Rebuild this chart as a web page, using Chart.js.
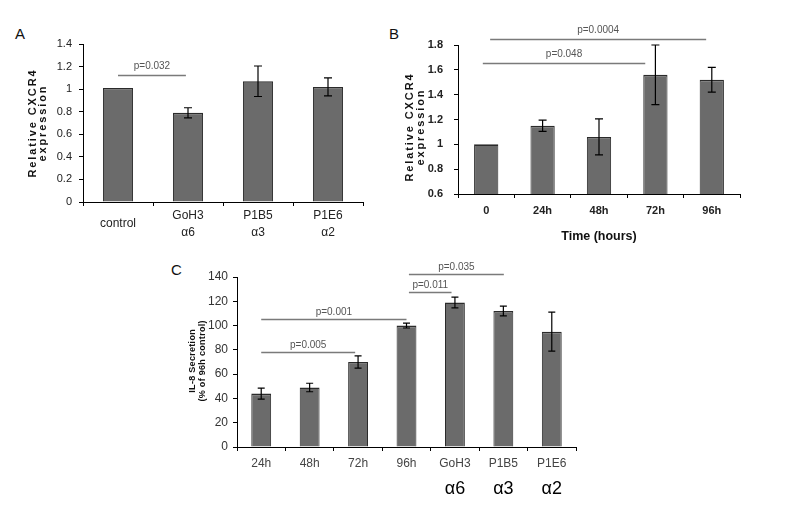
<!DOCTYPE html>
<html lang="en">
<head>
<meta charset="UTF-8">
<title>CXCR4 expression and IL-8 secretion</title>
<script src="https://cdn.jsdelivr.net/npm/chart.js"></script>
<style>
    body { margin: 0; background: #fff; }
    #wrap { position: relative; width: 800px; height: 507px; overflow: hidden; }
    canvas, .tag { position: absolute; }
    .tag { font: 15px "Liberation Sans", Arial, sans-serif; color: #111; }
</style>
</head>
<body>
<div id="wrap">
    <div class="tag" style="left:15px;top:25px">A</div>
    <div class="tag" style="left:389px;top:25px">B</div>
    <div class="tag" style="left:171px;top:261px">C</div>
    <canvas id="chartA" width="385" height="260" style="left:0;top:0"></canvas>
    <canvas id="chartB" width="400" height="260" style="left:390px;top:0"></canvas>
    <canvas id="chartC" width="430" height="257" style="left:170px;top:250px"></canvas>
</div>

<script>
const FONT = "'Liberation Sans', Arial, sans-serif";

// Panel A - CXCR4 after antibody treatment
const labelsA = ['control', ['GoH3', 'α6'], ['P1B5', 'α3'], ['P1E6', 'α2']];
const valuesA = [1.01, 0.79, 1.07, 1.02];
const errorsA = [0, 0.045, 0.135, 0.08];
const sigA = [{ from: 0, to: 0.97, y: 1.125, text: 'p=0.032' }];

// Panel B - CXCR4 over time
const labelsB = ['0', '24h', '48h', '72h', '96h'];
const valuesB = [1.0, 1.15, 1.06, 1.56, 1.52];
const errorsB = [0, 0.045, 0.145, 0.24, 0.1];
const sigB = [
    { from: 0.07, to: 3.9, y: 1.848, text: 'p=0.0004' },
    { from: -0.06, to: 2.82, y: 1.658, text: 'p=0.048' }
];

// Panel C - IL-8 secretion
const labelsC = ['24h', '48h', '72h', '96h', 'GoH3', 'P1B5', 'P1E6'];
const greekC = ['', '', '', '', 'α6', 'α3', 'α2'];
const valuesC = [44, 49, 70, 100, 119, 112, 95];
const errorsC = [4.5, 3.5, 5, 2, 4.5, 4, 16];
const sigC = [
    { from: 3.05, to: 5.01, y: 142.8, text: 'p=0.035' },
    { from: 3.05, to: 3.93, y: 127.7, text: 'p=0.011' },
    { from: 0, to: 3.0, y: 105.7, text: 'p=0.001' },
    { from: 0, to: 1.94, y: 78.2, text: 'p=0.005' }
];

const yTitleCXCR4 = ['Relative CXCR4', 'expression'];
const yTitleIL8 = ['IL-8 Secretion', '(% of 96h control)'];

// rotated y title, drawn letter by letter so the spacing is the same everywhere
function spacedTitle(ctx, t) {
    ctx.save();
    ctx.font = t.font;
    ctx.fillStyle = '#111';
    ctx.translate(t.x, t.y);
    ctx.rotate(-Math.PI / 2);
    ctx.textAlign = 'left';
    ctx.textBaseline = 'middle';
    t.lines.forEach((line, k) => {
        const chars = [...line];
        const w = chars.reduce((a, ch) => a + ctx.measureText(ch).width, 0) + t.spacing * (chars.length - 1);
        let x = -w / 2;
        chars.forEach(ch => {
            ctx.fillText(ch, x, k * t.lh);
            x += ctx.measureText(ch).width + t.spacing;
        });
    });
    ctx.restore();
}

// error bars, p-value brackets and the y title
function extras(errors, sig, cap, gap, title) {
    return {
        id: 'extras',
        afterDatasetsDraw(chart) {
            const ctx = chart.ctx, y = chart.scales.y;
            const vals = chart.data.datasets[0].data;
            ctx.save();
            ctx.strokeStyle = '#000';
            ctx.lineWidth = 1.2;
            chart.getDatasetMeta(0).data.forEach((bar, i) => {
                if (!errors[i]) return;
                const top = y.getPixelForValue(vals[i] + errors[i]);
                const bot = y.getPixelForValue(vals[i] - errors[i]);
                ctx.beginPath();
                ctx.moveTo(bar.x, top); ctx.lineTo(bar.x, bot);
                ctx.moveTo(bar.x - cap, top); ctx.lineTo(bar.x + cap, top);
                ctx.moveTo(bar.x - cap, bot); ctx.lineTo(bar.x + cap, bot);
                ctx.stroke();
            });
            ctx.restore();
        },
        afterDraw(chart) {
            const ctx = chart.ctx, x = chart.scales.x, y = chart.scales.y;
            ctx.save();
            ctx.strokeStyle = '#7a7a7a';
            ctx.lineWidth = 1.3;
            ctx.fillStyle = '#555';
            ctx.font = '10px ' + FONT;
            ctx.textAlign = 'center';
            ctx.textBaseline = 'middle';
            sig.forEach(s => {
                const x1 = x.getPixelForValue(s.from), x2 = x.getPixelForValue(s.to);
                const py = Math.round(y.getPixelForValue(s.y)) + 0.5;
                ctx.beginPath();
                ctx.moveTo(x1, py); ctx.lineTo(x2, py);
                ctx.stroke();
                ctx.fillText(s.text, (x1 + x2) / 2, py - gap);
            });
            ctx.restore();
            spacedTitle(ctx, title);
        }
    };
}

function barData(labels, values, pct) {
    return {
        labels: labels,
        datasets: [{
            data: values,
            backgroundColor: '#6b6b6b',
            borderColor: '#2b2b2b',
            borderWidth: { top: 1.6, left: 1, right: 1, bottom: 0 },
            categoryPercentage: 1,
            barPercentage: pct
        }]
    };
}

const common = {
    responsive: false,
    animation: false,
    events: [],
    plugins: { legend: { display: false }, tooltip: { enabled: false } }
};
const axisGrid = { drawOnChartArea: false, tickLength: 4, color: '#000' };

new Chart(document.getElementById('chartA'), {
    type: 'bar',
    data: barData(labelsA, valuesA, 0.43),
    options: {
        ...common,
        layout: { padding: { top: 44, right: 22, left: 0, bottom: 0 } },
        scales: {
            x: {
                afterFit: s => { s.height = 58; },
                ticks: { padding: 10, crossAlign: 'center', maxRotation: 0, color: '#222',
                         font: { family: FONT, size: 12, lineHeight: 1.35 } },
                grid: axisGrid,
                border: { color: '#000' }
            },
            y: {
                min: 0, max: 1.4,
                afterFit: s => { s.width = 83; },
                ticks: { stepSize: 0.2, padding: 7, color: '#222', font: { family: FONT, size: 11 },
                         callback: v => String(+v.toFixed(1)) },
                grid: axisGrid,
                border: { color: '#000' }
            }
        }
    },
    plugins: [extras(errorsA, sigA, 4, 9,
        { lines: yTitleCXCR4, x: 33, y: 124, lh: 10, spacing: 1.9, font: 'bold 11px ' + FONT })]
});

new Chart(document.getElementById('chartB'), {
    type: 'bar',
    data: barData(labelsB, valuesB, 0.43),
    options: {
        ...common,
        layout: { padding: { top: 45, right: 50, left: 0, bottom: 0 } },
        scales: {
            x: {
                afterFit: s => { s.height = 66; },
                ticks: { padding: 6.5, maxRotation: 0, color: '#222',
                         font: { family: FONT, size: 11, weight: 'bold' } },
                grid: axisGrid,
                border: { color: '#000' },
                title: { display: true, text: 'Time (hours)', padding: { bottom: 16 }, color: '#111',
                         font: { family: FONT, size: 12.5, weight: 'bold' } }
            },
            y: {
                min: 0.6, max: 1.8,
                afterFit: s => { s.width = 68; },
                ticks: { stepSize: 0.2, padding: 11, color: '#222', font: { family: FONT, size: 11, weight: 'bold' },
                         callback: v => String(+v.toFixed(1)) },
                grid: axisGrid,
                border: { color: '#000' }
            }
        }
    },
    plugins: [extras(errorsB, sigB, 4, 9.5,
        { lines: yTitleCXCR4, x: 20, y: 128, lh: 11, spacing: 1.9, font: 'bold 11px ' + FONT })]
});

new Chart(document.getElementById('chartC'), {
    type: 'bar',
    data: barData(labelsC, valuesC, 0.41),
    options: {
        ...common,
        layout: { padding: { top: 27, right: 24, left: 0, bottom: 0 } },
        scales: {
            x: {
                afterFit: s => { s.height = 30; },
                ticks: { padding: 5, maxRotation: 0, autoSkip: false, color: '#444',
                         font: { family: FONT, size: 12 } },
                grid: axisGrid,
                border: { color: '#000' }
            },
            x2: {
                type: 'category',
                labels: greekC,
                position: 'bottom',
                offset: true,
                weight: 1,
                afterFit: s => { s.height = 30; },
                ticks: { padding: 1, maxRotation: 0, autoSkip: false, color: '#000',
                         font: { family: FONT, size: 18 } },
                grid: { display: false, drawTicks: false },
                border: { display: false }
            },
            y: {
                min: 0, max: 140,
                afterFit: s => { s.width = 67; },
                ticks: { stepSize: 20, padding: 5, color: '#333', font: { family: FONT, size: 12 } },
                grid: axisGrid,
                border: { color: '#000' }
            }
        }
    },
    plugins: [extras(errorsC, sigC, 3.5, 7.5,
        { lines: yTitleIL8, x: 23, y: 111, lh: 10, spacing: 0.3, font: 'bold 9px ' + FONT })]
});
</script>
</body>
</html>
